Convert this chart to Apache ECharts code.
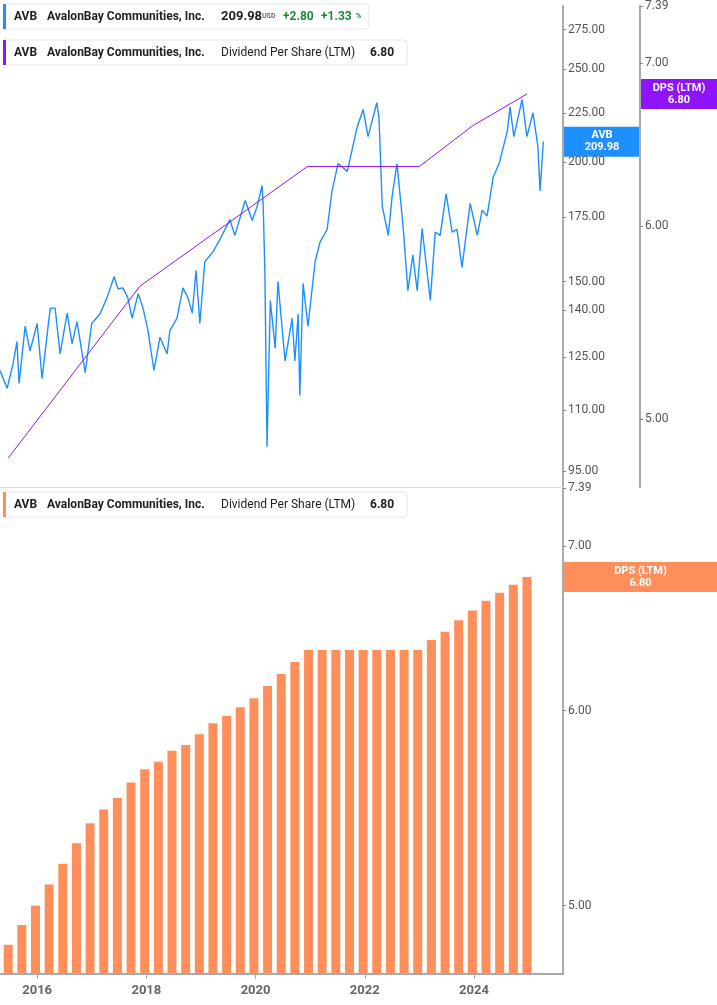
<!DOCTYPE html>
<html><head><meta charset="utf-8">
<script src="https://cdn.jsdelivr.net/npm/echarts@6/dist/echarts.min.js"></script>
<style>html,body{margin:0;padding:0;background:#fff}#c{width:717px;height:1005px}</style>
</head><body><div id="c"></div>
<script>
const priceYears=[2015.32,2015.45,2015.56,2015.63,2015.67,2015.78,2015.87,2016.00,2016.09,2016.24,2016.33,2016.42,2016.55,2016.64,2016.73,2016.88,2017.00,2017.15,2017.28,2017.41,2017.48,2017.57,2017.66,2017.74,2017.85,2017.94,2018.03,2018.14,2018.25,2018.38,2018.43,2018.56,2018.67,2018.76,2018.84,2018.91,2018.98,2019.07,2019.22,2019.35,2019.53,2019.62,2019.81,2019.94,2020.03,2020.12,2020.14,2020.17,2020.21,2020.27,2020.36,2020.41,2020.54,2020.67,2020.72,2020.78,2020.81,2020.87,2020.96,2021.09,2021.18,2021.31,2021.40,2021.51,2021.68,2021.86,2021.97,2022.06,2022.22,2022.26,2022.32,2022.43,2022.50,2022.59,2022.70,2022.79,2022.88,2022.96,2023.05,2023.20,2023.29,2023.38,2023.49,2023.60,2023.69,2023.78,2023.93,2024.06,2024.15,2024.24,2024.35,2024.46,2024.61,2024.66,2024.73,2024.88,2024.97,2025.08,2025.17,2025.21,2025.27];
const prices=[121.1,116.0,123.1,129.8,117.4,134.7,126.9,135.6,118.8,140.7,140.7,126.0,139.0,129.1,136.2,120.5,135.6,138.7,144.3,151.7,147.4,147.7,144.3,137.3,145.7,140.7,133.2,121.1,131.2,126.0,133.2,137.3,147.7,144.3,139.0,154.0,135.6,157.3,161.1,166.1,174.1,167.6,182.3,173.7,179.8,188.9,179.8,154.0,100.8,143.3,127.8,150.0,123.9,137.3,123.9,138.7,114.1,149.3,134.7,157.3,164.9,170.0,186.5,199.2,195.5,217.4,226.9,212.5,230.6,222.5,179.8,167.6,184.0,199.2,171.7,146.7,159.9,146.7,170.4,143.3,168.9,167.6,185.2,168.9,170.0,155.2,181.0,167.6,178.1,175.6,192.6,199.2,215.4,228.3,212.5,232.4,212.5,225.1,207.6,186.5,209.98];
const dpsLineYears=[2015.47,2017.88,2020.95,2023.00,2023.98,2024.97];
const dpsLineValues=[4.82,5.67,6.35,6.35,6.60,6.80];
const barYears=[2015.47,2015.72,2015.97,2016.22,2016.47,2016.72,2016.97,2017.22,2017.47,2017.72,2017.97,2018.22,2018.47,2018.72,2018.97,2019.22,2019.47,2019.72,2019.97,2020.22,2020.47,2020.72,2020.97,2021.22,2021.47,2021.72,2021.97,2022.22,2022.47,2022.72,2022.97,2023.22,2023.47,2023.72,2023.97,2024.22,2024.47,2024.72,2024.97];
const barValues=[4.82,4.91,5.00,5.10,5.20,5.30,5.40,5.47,5.53,5.61,5.68,5.72,5.78,5.81,5.87,5.93,5.97,6.02,6.07,6.14,6.21,6.28,6.35,6.35,6.35,6.35,6.35,6.35,6.35,6.35,6.35,6.41,6.46,6.53,6.59,6.65,6.70,6.75,6.80];
const yearTicks=[2016,2018,2020,2022,2024];
const priceTicks=[95,110,125,140,150,175,200,225,250,275];
const dpsTicks=[5,6,7,7.39];

const BLUE='#1e8fff',PURPLE='#9013fe',ORANGE='#ff8f5a';
const FONT='Roboto';
const chart=echarts.init(document.getElementById('c'),null,{renderer:'canvas'});
const zip=(a,b)=>a.map((x,i)=>[x,b[i]]);
const axLine={show:true,lineStyle:{color:'#aaa',width:2}};
const lab={color:'#555',fontSize:12,fontFamily:FONT,formatter:v=>Number(v).toFixed(2)};
chart.setOption({
  animation:false,
  grid:[{left:0,right:154,top:0,height:487},{left:0,right:154,top:488,bottom:31}],
  xAxis:[
    {gridIndex:0,type:'value',min:2015.32,max:2025.63,axisLine:{show:true,lineStyle:{color:'#ddd',width:1}},axisTick:{show:false},axisLabel:{show:false},splitLine:{show:false}},
    {gridIndex:1,type:'value',min:2015.32,max:2025.63,axisLine:{show:true,lineStyle:{color:'#aaa',width:2}},
     axisTick:{show:true,customValues:yearTicks,length:5,lineStyle:{color:'#aaa'}},
     axisLabel:{customValues:yearTicks,color:'#666',fontSize:13,fontWeight:'bold',fontFamily:FONT,margin:10,formatter:v=>String(v)},splitLine:{show:false}}
  ],
  yAxis:[
    {gridIndex:0,type:'log',position:'right',min:91.5,max:291,axisLine:axLine,axisTick:{show:true,customValues:priceTicks,length:3,lineStyle:{color:'#888'}},axisLabel:Object.assign({customValues:priceTicks,margin:5},lab),splitLine:{show:false}},
    {gridIndex:0,type:'log',position:'right',offset:77,min:4.69,max:7.39,axisLine:axLine,axisTick:{show:true,customValues:dpsTicks,length:3,lineStyle:{color:'#888'}},axisLabel:Object.assign({customValues:dpsTicks,margin:5},lab),splitLine:{show:false}},
    {gridIndex:1,type:'log',position:'right',min:4.69,max:7.39,axisLine:axLine,axisTick:{show:true,customValues:dpsTicks,length:3,lineStyle:{color:'#888'}},axisLabel:Object.assign({customValues:dpsTicks,margin:5},lab),splitLine:{show:false}}
  ],
  series:[
    {type:'line',xAxisIndex:0,yAxisIndex:0,data:zip(priceYears,prices),showSymbol:false,lineStyle:{color:BLUE,width:1.4},itemStyle:{color:BLUE},z:3},
    {type:'line',xAxisIndex:0,yAxisIndex:1,data:zip(dpsLineYears,dpsLineValues),showSymbol:false,lineStyle:{color:PURPLE,width:1},itemStyle:{color:PURPLE},z:4},
    {type:'bar',xAxisIndex:1,yAxisIndex:2,data:zip(barYears,barValues),barWidth:9,itemStyle:{color:ORANGE}}
  ]
});
function legend(y,w,color,parts){
  const children=[
    {type:'rect',shape:{x:3,y:y,width:w,height:25,r:3},style:{fill:'#fff',stroke:'#e6e6e6',lineWidth:1}},
    {type:'rect',shape:{x:3,y:y,width:3,height:25},style:{fill:color}}
  ];
  parts.forEach(p=>children.push({type:'text',x:p[0],y:y+12.5,style:{text:p[1],fill:p[2]||'#222',font:(p[3]||'bold 12px ')+FONT,textVerticalAlign:'middle'}}));
  return {type:'group',children:children,z:50};
}
function tag(x,y,w,h,color,t){
  return {type:'group',z:60,children:[
    {type:'rect',shape:{x:x,y:y-h/2,width:w,height:h},style:{fill:color}},
    {type:'text',x:x+w/2,y:y,style:{text:t,fill:'#fff',font:'bold 11px '+FONT,textAlign:'center',textVerticalAlign:'middle',lineHeight:12}}
  ]};
}
const yp=chart.convertToPixel({yAxisIndex:0},prices[prices.length-1]);
const yd=chart.convertToPixel({yAxisIndex:1},dpsLineValues[dpsLineValues.length-1]);
const yb=chart.convertToPixel({yAxisIndex:2},barValues[barValues.length-1]);
chart.setOption({graphic:[
  legend(4,366,BLUE,[[14,'AVB'],[47,'AVB'.length?'AvalonBay Communities, Inc.':''],[221,'209.98','#222','bold 13px '],[262,'USD','#666','bold 7px '],[283,'+2.80','#1a8a3a','bold 12px '],[321,'+1.33','#1a8a3a','bold 12px '],[356,'%','#1a8a3a','bold 7px ']]),
  legend(40,404,PURPLE,[[14,'AVB'],[47,'AvalonBay Communities, Inc.'],[221,'Dividend Per Share (LTM)','#222','12px '],[370,'6.80','#222','bold 12px ']]),
  legend(492,404,ORANGE,[[14,'AVB'],[47,'AvalonBay Communities, Inc.'],[221,'Dividend Per Share (LTM)','#222','12px '],[370,'6.80','#222','bold 12px ']]),
  tag(564,yp,76,30,BLUE,'AVB\n209.98'),
  tag(641,yd,76,30,PURPLE,'DPS (LTM)\n6.80'),
  tag(564,yb,153,30,ORANGE,'DPS (LTM)\n6.80')
]});
</script></body></html>
